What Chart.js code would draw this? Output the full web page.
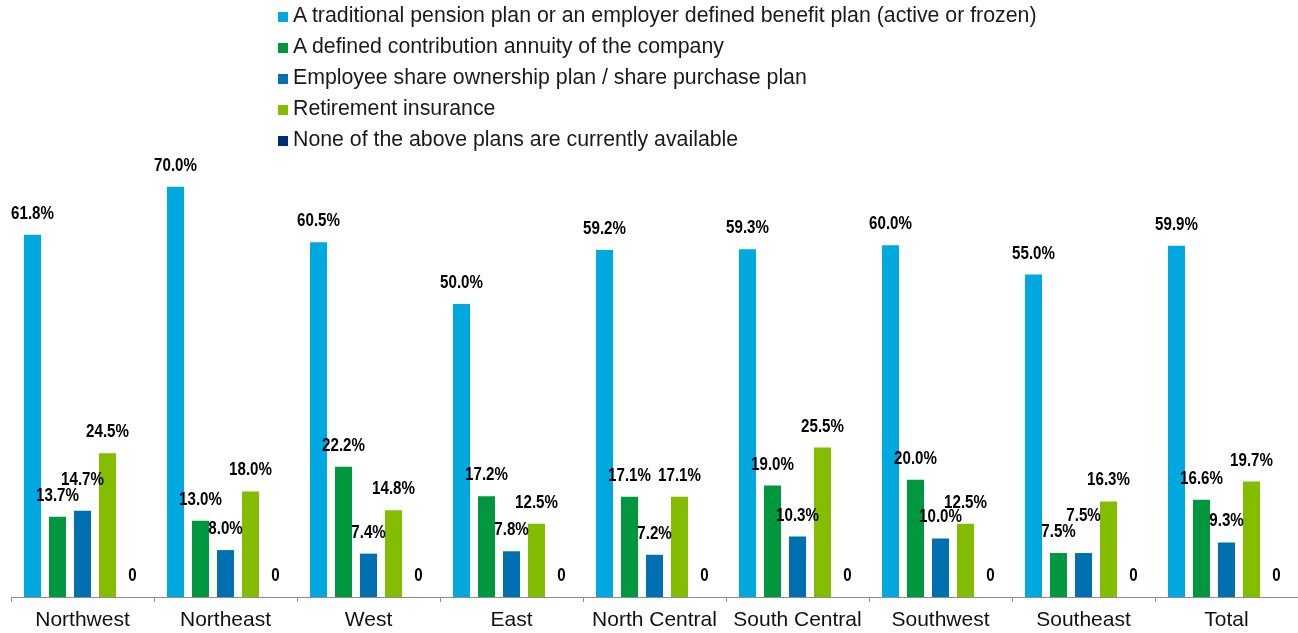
<!DOCTYPE html>
<html>
<head>
<meta charset="utf-8">
<script src="https://cdn.jsdelivr.net/npm/chart.js@4/dist/chart.umd.min.js"></script>
<style>
    html, body { margin: 0; padding: 0; background: #fff; }
    #wrap { position: relative; width: 1298px; height: 633px; }
    #legend { position: absolute; left: 278px; top: 0; font-family: 'Liberation Sans', Arial, sans-serif; font-size: 21.3px; color: #1a1a1a; }
    #legend div { height: 31px; line-height: 31px; white-space: nowrap; }
    #legend span.box { display: inline-block; width: 10px; height: 10px; margin-right: 5px; vertical-align: baseline; }
</style>
</head>
<body>
<div id="wrap">
    <canvas id="planChart" width="1298" height="633"></canvas>
    <div id="legend"></div>
</div>
<script>
const regions = ['Northwest', 'Northeast', 'West', 'East', 'North Central', 'South Central', 'Southwest', 'Southeast', 'Total'];

const seriesNames = [
    'A traditional pension plan or an employer defined benefit plan (active or frozen)',
    'A defined contribution annuity of the company',
    'Employee share ownership plan / share purchase plan',
    'Retirement insurance',
    'None of the above plans are currently available'
];

const pensionPlan = [61.8, 70.0, 60.5, 50.0, 59.2, 59.3, 60.0, 55.0, 59.9];
const contributionAnnuity = [13.7, 13.0, 22.2, 17.2, 17.1, 19.0, 20.0, 7.5, 16.6];
const sharePlan = [14.7, 8.0, 7.4, 7.8, 7.2, 10.3, 10.0, 7.5, 9.3];
const retirementInsurance = [24.5, 18.0, 14.8, 12.5, 17.1, 25.5, 12.5, 16.3, 19.7];
const noPlan = [0, 0, 0, 0, 0, 0, 0, 0, 0];

const colors = ['#00a8e0', '#00973f', '#0070b0', '#84bd00', '#002d72'];

// value labels above bars (narrow bold, lifted when they bump into the neighbour)
const barLabels = {
    id: 'barLabels',
    afterDatasetsDraw(chart) {
        const ctx = chart.ctx;
        const squeeze = 0.84;
        const textH = 13;
        ctx.save();
        ctx.font = "bold 18px 'Liberation Sans', Arial, sans-serif";
        ctx.fillStyle = '#000';
        ctx.textAlign = 'center';
        ctx.textBaseline = 'alphabetic';
        chart.data.labels.forEach((_, j) => {
            let prev = null;
            chart.data.datasets.forEach((ds, i) => {
                const bar = chart.getDatasetMeta(i).data[j];
                const v = ds.data[j];
                const txt = v === 0 ? '0' : v.toFixed(1) + '%';
                const w = ctx.measureText(txt).width * squeeze;
                let bottom = bar.y - 16;
                const box = { left: bar.x - w / 2, right: bar.x + w / 2 };
                if (prev && box.left < prev.right && bottom > prev.top && bottom - textH < prev.bottom) {
                    bottom = prev.top - 3;
                }
                box.bottom = bottom;
                box.top = bottom - textH;
                prev = box;
                ctx.save();
                ctx.translate(bar.x, bottom);
                ctx.scale(squeeze, 1);
                ctx.fillText(txt, 0, 0);
                ctx.restore();
            });
        });
        ctx.restore();
    }
};

const ctx = document.getElementById('planChart').getContext('2d');
const planChart = new Chart(ctx, {
    type: 'bar',
    data: {
        labels: regions,
        datasets: [pensionPlan, contributionAnnuity, sharePlan, retirementInsurance, noPlan].map((d, i) => ({
            label: seriesNames[i],
            data: d,
            backgroundColor: colors[i],
            borderWidth: 0,
            categoryPercentage: 0.874,
            barPercentage: 0.68
        }))
    },
    options: {
        responsive: false,
        animation: false,
        layout: { padding: { left: 11, right: 0, top: 128, bottom: 0 } },
        plugins: {
            legend: { display: false },
            tooltip: { enabled: false }
        },
        scales: {
            y: { display: false, min: 0, max: 80 },
            x: {
                afterFit: (s) => { s.height = 36; },
                grid: { display: true, drawOnChartArea: false, drawTicks: true, tickLength: 5, color: '#8c8c8c', offset: true },
                border: { display: true, color: '#8c8c8c', width: 1 },
                ticks: {
                    padding: 6,
                    color: '#111',
                    font: { family: "'Liberation Sans', Arial, sans-serif", size: 21 }
                }
            }
        }
    },
    plugins: [barLabels]
});

// html legend, one row per series
const legendEl = document.getElementById('legend');
planChart.data.datasets.forEach((ds) => {
    const row = document.createElement('div');
    const box = document.createElement('span');
    box.className = 'box';
    box.style.background = ds.backgroundColor;
    row.appendChild(box);
    row.appendChild(document.createTextNode(ds.label));
    legendEl.appendChild(row);
});
</script>
</body>
</html>
